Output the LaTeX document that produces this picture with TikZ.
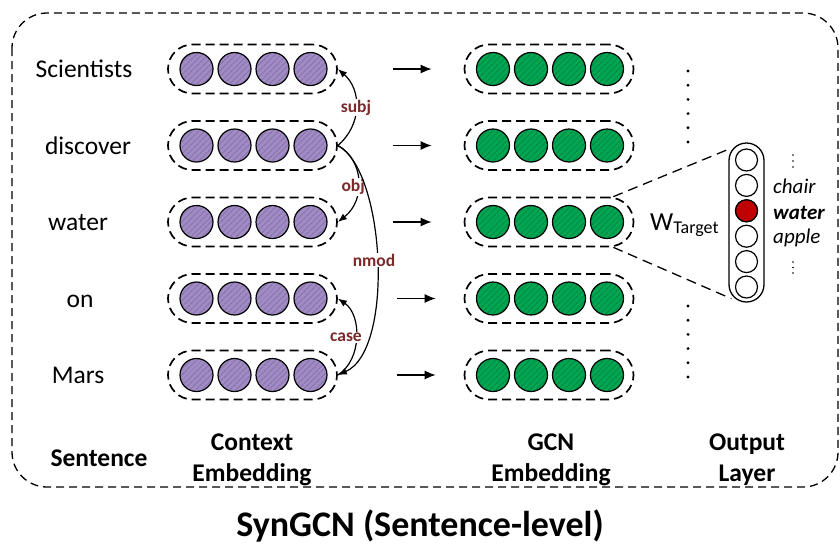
\documentclass[tikz,border=0pt]{standalone}
\usepackage{fontspec}
\setmainfont{Carlito}
\usetikzlibrary{arrows.meta,patterns.meta}
\definecolor{purp}{RGB}{160,140,194}
\definecolor{purps}{RGB}{138,117,176}
\definecolor{grn}{RGB}{0,166,82}
\definecolor{grns}{RGB}{0,140,68}
\definecolor{deplab}{RGB}{122,42,42}
\definecolor{outred}{RGB}{192,0,0}
\tikzset{
  capsule/.style={draw, dash pattern=on 9pt off 5pt, line width=1.7pt, rounded corners=24.5pt,
    minimum width=169pt, minimum height=49pt, inner sep=0pt},
  ball/.style={circle, draw, line width=1.2pt, minimum size=33pt, inner sep=0pt},
  ctxball/.style={ball, preaction={fill=purp}, pattern={Lines[angle=45,distance=4pt,line width=1.3pt]}, pattern color=purps},
  gcnball/.style={ball, preaction={fill=grn}, pattern={Lines[angle=45,distance=4pt,line width=1.3pt]}, pattern color=grns},
  word/.style={font=\fontsize{25.5}{30}\selectfont, inner sep=0pt, anchor=base},
  lbl/.style={font=\bfseries\fontsize{25.5}{31}\selectfont, inner sep=0pt, align=center},
  flow/.style={line width=1.3pt, -{Latex[length=11pt,width=9pt]}},
  dep/.style={line width=1.2pt, -{Latex[length=9pt,width=7pt]}},
  deplbl/.style={font=\bfseries\fontsize{17.5}{19}\selectfont, text=deplab, fill=white, inner sep=1pt},
  frame/.style={draw, dash pattern=on 8pt off 5pt, line width=1.3pt, rounded corners=35pt},
  dline/.style={dash pattern=on 10pt off 6pt, line width=1.3pt},
  outcap/.style={draw, line width=1.3pt, rounded corners=17.5pt, minimum width=35pt, minimum height=159pt, inner sep=0pt},
  oball/.style={circle, draw, line width=1.2pt, minimum size=22pt, inner sep=0pt, fill=white},
  owrd/.style={font=\itshape\fontsize{21}{24}\selectfont, inner sep=0pt, anchor=base west},
}
\begin{document}
\begin{tikzpicture}[x=1pt,y=-1pt]
\useasboundingbox (0,0) rectangle (840,547);
\draw[frame] (12,13) rectangle (838,487);

% words
\foreach \w/\x/\i in {Scientists/84/1, discover/88/2, water/78/3, on/80/4, Mars/78/5}
  \node[word] (w\i) at (\x, {69+76.5*(\i-1)+8.5}) {\w};

% capsules and balls
\foreach \i in {1,...,5} {
  \node[capsule] (c\i) at (252.5, {69+76.5*(\i-1)}) {};
  \node[capsule] (g\i) at (549, {69+76.5*(\i-1)}) {};
  \foreach \k in {0,...,3} {
    \node[ctxball] (c\i-\k) at ({196.5+38*\k}, {69+76.5*(\i-1)}) {};
    \node[gcnball] (g\i-\k) at ({493+38*\k}, {69+76.5*(\i-1)}) {};
  }
}

% flow arrows
\foreach \i in {1,2,3}
  \draw[flow, shorten <=55pt, shorten >=32pt] (c\i) -- (g\i);
\foreach \i in {4,5}
  \draw[flow, shorten <=59pt, shorten >=28pt] (c\i) -- (g\i);

% dependency arcs
\draw[dep] (c2.east) .. controls (362,125) and (362,90) .. node[deplbl] (lsubj) {subj} (c1.east);
\draw[dep] (c2.east) .. controls (364,160) and (366,200) .. node[deplbl, xshift=-5pt, yshift=-6pt] (lobj) {obj} (c3.east);
\draw[dep] (c2.east) .. controls (385,170) and (395,350) .. node[deplbl, xshift=-3pt] (lnmod) {nmod} (c5.east);
\draw[dep] (c5.east) .. controls (362,360) and (362,315) .. node[deplbl, xshift=-10pt] (lcase) {case} (c4.east);

% vertical dots
\foreach \k in {0,...,5} {
  \fill (688, {71+14.2*\k}) circle (1.6pt);
  \fill (688, {306+14.2*\k}) circle (1.6pt);
}

% output layer
\node[outcap] (out) at (746.5, 222.5) {};
\foreach \k in {0,...,5}
  \node[oball] (o\k) at (746.5, {160+25.4*\k}) {};
\node[oball, fill=outred] (o2r) at (746.5, {160+25.4*2}) {};

\draw[dline] ([xshift=-21pt]g3.north east) -- ([yshift=-7pt]out.north west);
\draw[dline] ([xshift=-21pt]g3.south east) -- ([xshift=3pt,yshift=4pt]out.south west);

\node[inner sep=0pt, anchor=base west] (wt) at (650,230) {\fontsize{26}{30}\selectfont W\fontsize{18}{20}\selectfont\raisebox{-3pt}{Target}};

\node[owrd] (wchair) at (773,193) {chair};
\node[owrd, font=\bfseries\itshape\fontsize{21}{24}\selectfont] (wwater) at (773,219) {water};
\node[owrd] (wapple) at (773,243) {apple};
\foreach \y in {155,161,167,262,267.5,273}
  \fill (793,\y) circle (0.9pt);

% bottom labels
\node[lbl] (ls) at (99,458) {Sentence};
\node[lbl] (lc) at (252,460) {Context\\Embedding};
\node[lbl] (lg) at (551,460) {GCN\\Embedding};
\node[lbl] (lo) at (747,460) {Output\\Layer};

\node[font=\bfseries\fontsize{36}{40}\selectfont, inner sep=0pt] (title) at (420,526) {SynGCN (Sentence-level)};
\end{tikzpicture}
\end{document}
